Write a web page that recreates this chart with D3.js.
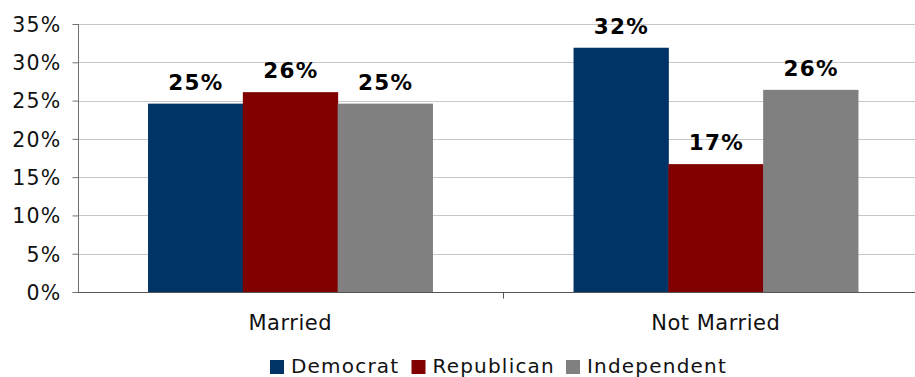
<!DOCTYPE html>
<html>
<head>
<meta charset="utf-8">
<script src="https://cdn.jsdelivr.net/npm/d3@7"></script>
<style>
  html, body { margin: 0; padding: 0; background: #fff; }
  svg { display: block; font-family: "DejaVu Sans", Verdana, sans-serif; }
</style>
</head>
<body>
<svg id="chart" width="915" height="377"></svg>
<script>
const categories = ["Married", "Not Married"];
const seriesNames = ["Democrat", "Republican", "Independent"];
const democrat = [24.6, 31.9];
const republican = [26.1, 16.7];
const independent = [24.6, 26.4];
const yTicks = [0, 5, 10, 15, 20, 25, 30, 35];
const colors = ["#003366", "#800000", "#808080"];

const seriesValues = [democrat, republican, independent];
const svg = d3.select("#chart");

const x0 = d3.scaleBand().domain(categories).range([77.5, 928.5]).paddingInner(0).paddingOuter(0);
const x1 = d3.scaleBand().domain(seriesNames).range([0, x0.bandwidth()]).paddingInner(0).paddingOuter(0.744);
const y = d3.scaleLinear().domain([0, 35]).range([292, 24]);

// gridlines
svg.append("g").selectAll("line").data(yTicks.filter(d => d > 0)).join("line")
  .attr("x1", 78).attr("x2", 915)
  .attr("y1", d => Math.round(y(d)) + 0.5).attr("y2", d => Math.round(y(d)) + 0.5)
  .attr("stroke", "#c8c8c8").attr("stroke-width", 1);

// bars
const groups = svg.append("g").selectAll("g").data(categories).join("g")
  .attr("transform", c => `translate(${x0(c)},0)`);
seriesNames.forEach((s, si) => {
  groups.append("rect")
    .attr("x", (c, ci) => x1(s))
    .attr("width", x1.bandwidth() + 0.5)
    .attr("y", (c, ci) => y(seriesValues[si][ci]))
    .attr("height", (c, ci) => y(0) - y(seriesValues[si][ci]))
    .attr("fill", colors[si]);
  groups.append("text")
    .attr("x", (c, ci) => x1(s) + x1.bandwidth() / 2 + 0.6)
    .attr("y", (c, ci) => y(seriesValues[si][ci]) - 14)
    .attr("text-anchor", "middle")
    .attr("font-size", 21.5).attr("font-weight", "bold")
    .attr("letter-spacing", 1.3)
    .attr("fill", "#000")
    .text((c, ci) => Math.round(seriesValues[si][ci]) + "%");
});

// y axis
const yAxis = d3.axisLeft(y).tickValues(yTicks).tickSize(6).tickPadding(11).tickFormat(d => d + "%");
const gy = svg.append("g").attr("transform", "translate(78.5,0)").call(yAxis);
gy.select(".domain").attr("stroke", "#707070").attr("d", `M0,${y(35)}V${y(0)}`);
gy.selectAll(".tick line").attr("stroke", "#707070");
gy.selectAll(".tick text").attr("font-size", 20.5).attr("letter-spacing", 1.2)
  .attr("fill", "#111").attr("font-family", "DejaVu Sans, Verdana, sans-serif").attr("dy", "0.36em");

// x axis
const gx = svg.append("g").attr("transform", `translate(0,${y(0) + 0.5})`);
gx.append("line").attr("x1", 78).attr("x2", 915).attr("stroke", "#555");
const boundaries = categories.map(c => x0(c)).concat([x0(categories[categories.length - 1]) + x0.bandwidth()]);
gx.selectAll(".bt").data(boundaries.slice(1)).join("line")
  .attr("x1", d => Math.round(d) + 0.5).attr("x2", d => Math.round(d) + 0.5)
  .attr("y1", 0).attr("y2", 6).attr("stroke", "#555");
gx.selectAll(".cl").data(categories).join("text")
  .attr("x", c => x0(c) + x0.bandwidth() / 2)
  .attr("y", 37.5)
  .attr("text-anchor", "middle")
  .attr("font-size", 21).attr("letter-spacing", 0.5)
  .attr("fill", "#111")
  .text(c => c);

// legend
const legendItems = [
  { name: seriesNames[0], color: colors[0], x: 270 },
  { name: seriesNames[1], color: colors[1], x: 411.5 },
  { name: seriesNames[2], color: colors[2], x: 566 }
];
const lg = svg.append("g");
legendItems.forEach(it => {
  lg.append("rect").attr("x", it.x).attr("y", 360).attr("width", 14).attr("height", 14).attr("fill", it.color);
  lg.append("text").attr("x", it.x + 21).attr("y", 373)
    .attr("font-size", 20).attr("letter-spacing", 1.2).attr("fill", "#111").text(it.name);
});
</script>
</body>
</html>
